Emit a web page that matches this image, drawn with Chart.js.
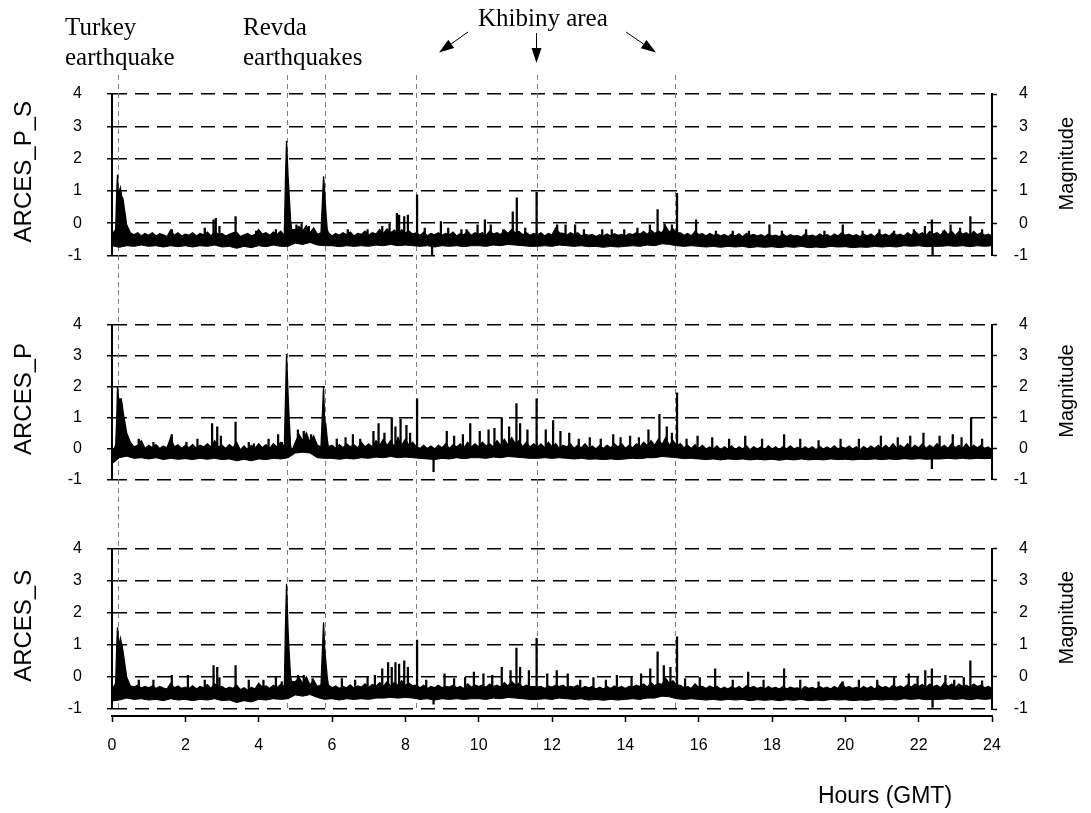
<!DOCTYPE html>
<html><head><meta charset="utf-8">
<script src="https://cdn.jsdelivr.net/npm/chart.js@4.4.1/dist/chart.umd.min.js"></script>
<style>
html,body{margin:0;padding:0;background:#fff;}
#wrap{position:relative;width:1091px;height:813px;overflow:hidden;background:#fff;}
canvas{position:absolute;left:0;}
</style></head><body>
<div id="wrap">
<canvas id="c1" width="1091" height="290" style="top:0px"></canvas>
<canvas id="c2" width="1091" height="224" style="top:290px"></canvas>
<canvas id="c3" width="1091" height="299" style="top:514px"></canvas>
</div>
<script>
// ---------------- DATA ----------------
const panelNames = ['ARCES_P_S', 'ARCES_P', 'ARCES_S'];
const eventHours = [0.17, 4.77, 5.8, 8.3, 11.58, 15.35];
const hourMin = 0, hourMax = 24, hourStep = 2;
const magMin = -1, magMax = 4, magStep = 1;
const upperStep = 0.1; // hours between upper-envelope samples
const lowerStep = 0.2; // hours between lower-envelope samples
const spikeBase = [-0.5, -0.12, -0.45]; // magnitude inside each band from which spikes rise

// ARCES_P_S
const upperPS = [
-0.35,-0.2,1.0,0.75,-0.05,-0.3,-0.36,-0.3,-0.4,-0.32,
-0.38,-0.3,-0.4,-0.33,-0.36,-0.42,-0.22,-0.38,-0.3,-0.4,
-0.34,-0.38,-0.3,-0.4,-0.32,-0.36,-0.28,-0.4,-0.25,-0.35,
-0.32,-0.4,-0.35,-0.3,-0.28,-0.42,-0.36,-0.32,-0.4,-0.35,
-0.2,-0.34,-0.3,-0.38,-0.28,-0.35,-0.25,-0.38,1.5,-0.2,
-0.2,-0.1,-0.25,-0.08,-0.3,-0.15,-0.35,-0.3,1.0,-0.3,
-0.4,-0.32,-0.38,-0.3,-0.36,-0.28,-0.4,-0.32,-0.35,-0.25,
-0.38,-0.3,-0.34,-0.2,-0.32,-0.18,-0.3,-0.22,-0.35,-0.2,
-0.3,-0.25,-0.34,-0.3,-0.38,-0.28,-0.4,-0.32,-0.36,-0.3,
-0.38,-0.32,-0.36,-0.28,-0.4,-0.32,-0.36,-0.26,-0.38,-0.3,
-0.35,-0.3,-0.38,-0.25,-0.34,-0.3,-0.36,-0.22,-0.32,-0.2,
-0.3,-0.26,-0.36,-0.3,-0.38,-0.32,-0.36,-0.3,-0.4,-0.32,
-0.36,-0.15,-0.3,-0.32,-0.38,-0.3,-0.35,-0.3,-0.4,-0.34,
-0.38,-0.35,-0.42,-0.36,-0.4,-0.34,-0.4,-0.33,-0.38,-0.35,
-0.4,-0.33,-0.36,-0.3,-0.34,-0.26,-0.35,-0.22,-0.32,-0.25,
-0.3,-0.1,-0.28,-0.18,-0.3,-0.3,-0.38,-0.32,-0.4,-0.26,
-0.36,-0.33,-0.4,-0.32,-0.38,-0.34,-0.4,-0.35,-0.42,-0.34,
-0.4,-0.33,-0.42,-0.32,-0.38,-0.35,-0.4,-0.36,-0.42,-0.34,
-0.4,-0.37,-0.42,-0.34,-0.42,-0.36,-0.4,-0.38,-0.44,-0.34,
-0.4,-0.37,-0.42,-0.34,-0.4,-0.36,-0.42,-0.34,-0.4,-0.3,
-0.38,-0.34,-0.4,-0.36,-0.42,-0.34,-0.4,-0.34,-0.42,-0.3,
-0.38,-0.34,-0.4,-0.3,-0.38,-0.34,-0.4,-0.3,-0.38,-0.26,
-0.36,-0.3,-0.38,-0.26,-0.34,-0.3,-0.38,-0.22,-0.36,-0.26,
-0.38,-0.26,-0.34,-0.3,-0.38,-0.26,-0.36,-0.3,-0.38,-0.34,
-0.4];
const lowerPS = [
-0.7,-0.75,-0.7,-0.72,-0.68,-0.72,-0.7,-0.74,-0.7,-0.73,
-0.7,-0.74,-0.7,-0.72,-0.68,-0.74,-0.72,-0.78,-0.72,-0.76,
-0.7,-0.73,-0.68,-0.72,-0.72,-0.62,-0.66,-0.6,-0.68,-0.7,
-0.7,-0.73,-0.7,-0.72,-0.7,-0.72,-0.68,-0.7,-0.66,-0.7,
-0.68,-0.7,-0.72,-0.7,-0.74,-0.7,-0.72,-0.7,-0.73,-0.7,
-0.7,-0.72,-0.68,-0.7,-0.66,-0.68,-0.7,-0.72,-0.72,-0.7,
-0.72,-0.68,-0.7,-0.72,-0.7,-0.73,-0.72,-0.75,-0.72,-0.74,
-0.72,-0.7,-0.72,-0.68,-0.7,-0.64,-0.66,-0.7,-0.72,-0.7,
-0.72,-0.74,-0.72,-0.75,-0.72,-0.74,-0.72,-0.76,-0.73,-0.75,
-0.73,-0.76,-0.73,-0.75,-0.72,-0.76,-0.74,-0.76,-0.72,-0.74,
-0.73,-0.76,-0.74,-0.75,-0.72,-0.74,-0.72,-0.74,-0.7,-0.72,
-0.7,-0.73,-0.72,-0.72,-0.7,-0.72,-0.7,-0.73,-0.7,-0.72,
-0.7];
const shapeHoursPS = [0.13,0.15,0.17,0.23,0.26,4.73,4.76,4.83,4.87,5.77,5.83,5.87];
const shapeMagsPS  = [1.0,1.5,0.95,1.1,0.85,1.3,2.55,0.9,0.1,1.45,0.4,-0.2];
const spikeHoursPS = [1.63,2.53,2.77,2.83,2.93,3.37,3.93,4.47,5.03,5.17,5.37,6.43,6.97,7.37,7.57,7.77,7.83,7.97,8.07,8.32,8.53,8.73,8.97,9.17,9.53,9.67,9.97,10.17,10.33,10.67,10.93,11.04,11.27,11.58,12.14,12.37,12.63,12.87,13.37,13.63,13.97,14.33,14.67,14.88,15.07,15.27,15.41,15.93,16.47,16.93,17.37,17.93,18.27,18.93,19.43,19.93,20.47,20.93,21.33,21.87,22.17,22.36,22.38,22.67,22.87,23.13,23.41,23.73];
const spikeMagsPS  = [-0.2,-0.15,0.1,0.15,-0.1,0.2,-0.25,-0.2,-0.05,0.0,-0.1,-0.2,-0.2,-0.1,0.0,0.3,0.25,0.2,0.25,0.88,-0.15,-1.05,0.05,-0.15,-0.2,-0.2,-0.05,0.1,-0.05,-0.2,0.35,0.78,-0.15,0.95,-0.05,-0.05,-0.05,-0.2,-0.2,-0.2,-0.2,-0.15,-0.05,0.42,0.0,-0.05,0.92,0.1,-0.25,-0.25,-0.25,-0.05,-0.25,-0.2,-0.25,-0.05,-0.25,-0.2,-0.25,-0.2,-0.1,0.1,-1.0,-0.25,-0.05,-0.15,0.2,-0.2];

// ARCES_P
const upperP = [
-0.2,0.1,1.6,1.2,0.5,0.2,0.05,0.1,0.25,0.0,
0.1,0.02,0.12,0.0,0.08,0.02,0.35,0.05,0.12,0.0,
0.1,0.02,0.12,0.0,0.1,0.05,0.15,0.05,0.25,0.05,
0.1,0.0,0.12,0.02,0.2,-0.05,0.08,-0.05,0.1,0.0,
0.15,0.02,0.12,0.0,0.15,0.05,0.2,0.05,1.8,-0.1,
0.2,0.45,0.25,0.5,0.2,0.4,0.1,0.05,0.9,0.05,
0.1,0.0,0.12,0.02,0.15,0.05,0.12,0.02,0.2,0.05,
0.15,0.05,0.25,0.1,0.3,0.1,0.25,0.05,0.35,0.1,
0.3,0.1,0.2,0.05,0.0,0.1,0.0,0.08,-0.02,0.1,
0.02,0.15,0.0,0.12,0.05,0.15,0.02,0.2,0.05,0.15,
0.05,0.2,0.08,0.15,0.05,0.25,0.1,0.3,0.1,0.35,
0.15,0.25,0.05,0.2,0.05,0.15,0.05,0.15,0.02,0.2,
0.05,0.15,0.0,0.1,0.05,0.15,0.0,0.1,0.02,0.15,
0.0,0.08,-0.02,0.1,0.0,0.1,0.02,0.15,0.05,0.15,
0.0,0.1,0.02,0.15,0.05,0.2,0.08,0.25,0.1,0.3,
0.12,0.35,0.1,0.25,0.1,0.15,0.02,0.1,0.0,0.12,
0.0,0.1,-0.02,0.05,-0.02,0.08,-0.04,0.05,-0.02,0.08,
-0.04,0.05,-0.02,0.08,-0.04,0.05,-0.02,0.05,-0.04,0.08,
-0.02,0.05,-0.04,0.06,-0.02,0.08,-0.02,0.04,-0.04,0.05,
-0.02,0.05,-0.04,0.06,-0.02,0.05,-0.02,0.08,-0.02,0.05,
0.0,0.08,-0.02,0.05,-0.04,0.06,-0.02,0.08,0.0,0.1,
0.0,0.1,0.0,0.15,0.0,0.1,0.02,0.15,0.0,0.1,
0.02,0.15,0.0,0.1,0.02,0.15,0.02,0.1,0.0,0.15,
0.02,0.1,0.0,0.15,0.0,0.1,0.02,0.1,0.0,0.05,
-0.05];
const lowerP = [
-0.5,-0.3,-0.25,-0.32,-0.3,-0.34,-0.3,-0.36,-0.32,-0.35,
-0.33,-0.36,-0.32,-0.35,-0.32,-0.36,-0.34,-0.4,-0.35,-0.4,
-0.34,-0.36,-0.32,-0.34,-0.3,-0.15,-0.12,-0.15,-0.3,-0.32,
-0.32,-0.35,-0.32,-0.34,-0.3,-0.32,-0.28,-0.3,-0.26,-0.3,
-0.28,-0.3,-0.32,-0.34,-0.36,-0.32,-0.34,-0.3,-0.33,-0.3,
-0.3,-0.32,-0.28,-0.3,-0.26,-0.28,-0.3,-0.32,-0.32,-0.3,
-0.32,-0.3,-0.32,-0.34,-0.32,-0.35,-0.34,-0.36,-0.34,-0.36,
-0.34,-0.32,-0.33,-0.3,-0.3,-0.26,-0.28,-0.3,-0.33,-0.32,
-0.34,-0.36,-0.34,-0.37,-0.34,-0.36,-0.34,-0.37,-0.35,-0.37,
-0.35,-0.38,-0.35,-0.37,-0.34,-0.37,-0.35,-0.37,-0.34,-0.36,
-0.35,-0.37,-0.35,-0.36,-0.34,-0.36,-0.34,-0.36,-0.33,-0.35,
-0.33,-0.35,-0.34,-0.34,-0.32,-0.34,-0.32,-0.34,-0.32,-0.33,
-0.32];
const shapeHoursP = [0.13,0.15,0.18,0.25,0.28,4.73,4.76,4.83,4.87,5.77,5.83,5.87];
const shapeMagsP  = [1.0,2.0,1.6,1.6,1.4,1.5,3.05,1.0,0.1,2.0,0.8,0.3];
const spikeHoursP = [0.73,1.13,1.63,2.03,2.33,2.73,2.87,2.97,3.37,3.73,3.87,4.27,4.53,4.63,5.07,5.23,5.43,6.13,6.37,6.57,6.77,7.13,7.27,7.43,7.63,7.73,7.87,8.03,8.13,8.32,8.77,9.13,9.33,9.57,9.77,10.03,10.27,10.43,10.63,10.83,11.03,11.13,11.33,11.58,11.83,12.03,12.23,12.47,12.73,13.03,13.33,13.67,13.87,14.13,14.37,14.63,14.93,15.13,15.27,15.41,15.67,15.97,16.37,16.83,17.27,17.73,18.33,18.77,19.27,19.87,20.37,20.97,21.43,21.77,22.13,22.36,22.57,22.93,23.17,23.43,23.73];
const spikeMagsP  = [0.3,0.2,0.45,0.2,0.3,0.8,0.7,0.4,0.85,0.2,0.15,0.3,0.45,0.2,0.6,0.55,0.45,0.3,0.35,0.45,0.3,0.55,0.8,0.5,1.0,0.7,0.95,0.75,0.5,1.6,-0.75,0.55,0.4,0.45,0.8,0.55,0.6,0.65,1.0,0.7,1.45,0.8,0.6,1.6,0.6,0.9,0.55,0.5,0.3,0.35,0.3,0.45,0.35,0.4,0.35,0.6,1.1,0.7,0.5,1.8,0.3,0.4,0.35,0.3,0.4,0.3,0.45,0.3,0.25,0.3,0.3,0.4,0.35,0.4,0.5,-0.65,0.4,0.45,0.35,1.0,0.3];

// ARCES_S
const upperS = [
-0.4,-0.2,1.0,0.8,0.0,-0.28,-0.32,-0.26,-0.35,-0.3,
-0.34,-0.28,-0.36,-0.3,-0.35,-0.38,-0.2,-0.34,-0.28,-0.36,
-0.32,-0.36,-0.28,-0.38,-0.3,-0.34,-0.24,-0.36,-0.22,-0.32,
-0.3,-0.38,-0.32,-0.36,-0.26,-0.4,-0.34,-0.42,-0.32,-0.38,
-0.2,-0.32,-0.28,-0.36,-0.26,-0.34,-0.24,-0.3,1.5,-0.15,
-0.15,-0.02,-0.2,0.0,-0.25,-0.1,-0.3,-0.25,0.9,-0.25,
-0.34,-0.28,-0.36,-0.3,-0.34,-0.25,-0.36,-0.28,-0.32,-0.22,
-0.32,-0.24,-0.3,-0.18,-0.3,-0.15,-0.28,-0.18,-0.26,-0.12,
-0.26,-0.2,-0.28,-0.26,-0.34,-0.26,-0.36,-0.3,-0.34,-0.26,
-0.34,-0.3,-0.32,-0.26,-0.34,-0.3,-0.36,-0.22,-0.32,-0.25,
-0.3,-0.26,-0.32,-0.22,-0.3,-0.26,-0.32,-0.18,-0.28,-0.14,
-0.26,-0.2,-0.32,-0.26,-0.3,-0.3,-0.32,-0.3,-0.36,-0.28,
-0.32,-0.26,-0.3,-0.26,-0.34,-0.3,-0.32,-0.26,-0.36,-0.3,
-0.34,-0.3,-0.38,-0.32,-0.38,-0.3,-0.36,-0.28,-0.34,-0.3,
-0.36,-0.3,-0.32,-0.26,-0.3,-0.22,-0.32,-0.18,-0.28,-0.2,
-0.24,-0.05,-0.2,-0.12,-0.25,-0.26,-0.34,-0.3,-0.36,-0.22,
-0.32,-0.3,-0.36,-0.28,-0.34,-0.3,-0.38,-0.32,-0.38,-0.3,
-0.36,-0.3,-0.38,-0.28,-0.34,-0.3,-0.36,-0.32,-0.38,-0.3,
-0.36,-0.33,-0.38,-0.3,-0.38,-0.32,-0.36,-0.34,-0.4,-0.3,
-0.36,-0.33,-0.38,-0.3,-0.36,-0.32,-0.38,-0.3,-0.36,-0.18,
-0.34,-0.3,-0.36,-0.32,-0.38,-0.3,-0.36,-0.3,-0.38,-0.26,
-0.34,-0.3,-0.36,-0.26,-0.33,-0.28,-0.34,-0.24,-0.32,-0.22,
-0.3,-0.24,-0.33,-0.22,-0.3,-0.26,-0.34,-0.18,-0.3,-0.22,
-0.33,-0.22,-0.3,-0.26,-0.33,-0.22,-0.3,-0.26,-0.34,-0.3,
-0.35];
const lowerS = [
-0.75,-0.72,-0.66,-0.7,-0.68,-0.72,-0.7,-0.74,-0.68,-0.72,
-0.7,-0.74,-0.7,-0.72,-0.68,-0.74,-0.72,-0.8,-0.74,-0.78,
-0.7,-0.72,-0.68,-0.7,-0.68,-0.56,-0.6,-0.55,-0.64,-0.7,
-0.68,-0.72,-0.68,-0.7,-0.68,-0.7,-0.66,-0.66,-0.64,-0.66,
-0.64,-0.66,-0.7,-0.68,-0.72,-0.68,-0.7,-0.68,-0.7,-0.68,
-0.68,-0.7,-0.66,-0.68,-0.64,-0.66,-0.68,-0.7,-0.7,-0.68,
-0.7,-0.66,-0.68,-0.7,-0.68,-0.72,-0.7,-0.73,-0.7,-0.72,
-0.7,-0.68,-0.7,-0.66,-0.66,-0.6,-0.62,-0.68,-0.7,-0.68,
-0.7,-0.72,-0.7,-0.73,-0.7,-0.72,-0.7,-0.74,-0.71,-0.73,
-0.71,-0.74,-0.71,-0.73,-0.7,-0.74,-0.72,-0.74,-0.7,-0.72,
-0.71,-0.74,-0.72,-0.73,-0.7,-0.72,-0.7,-0.72,-0.68,-0.7,
-0.68,-0.71,-0.7,-0.7,-0.68,-0.7,-0.68,-0.71,-0.68,-0.7,
-0.68];
const shapeHoursS = [0.13,0.15,0.18,0.23,0.27,4.73,4.76,4.83,4.87,5.77,5.83,5.87];
const shapeMagsS  = [1.0,1.55,1.1,1.2,1.0,1.5,2.9,0.8,0.0,1.7,0.5,0.0];
const spikeHoursS = [0.73,1.13,1.63,2.07,2.53,2.77,2.87,2.93,3.37,3.73,4.13,4.47,4.63,5.07,5.23,5.47,6.27,6.63,6.97,7.17,7.37,7.53,7.63,7.73,7.83,7.97,8.07,8.32,8.57,8.77,9.07,9.33,9.63,9.87,10.13,10.37,10.63,10.87,11.03,11.13,11.37,11.58,11.87,12.13,12.43,12.77,13.13,13.47,13.77,14.17,14.43,14.68,14.88,15.05,15.23,15.41,15.63,16.03,16.45,16.93,17.35,17.77,18.33,18.77,19.27,19.93,20.37,20.87,21.33,21.73,21.97,22.18,22.36,22.38,22.73,22.97,23.23,23.41,23.73];
const spikeMagsS  = [-0.1,-0.1,0.05,0.05,-0.1,0.35,0.3,0.0,0.35,-0.1,-0.1,0.0,-0.15,0.05,0.05,-0.05,-0.05,-0.1,0.0,0.05,0.25,0.45,0.3,0.45,0.4,0.5,0.3,1.15,-0.1,-0.85,0.1,-0.05,0.0,0.15,0.1,0.05,0.3,0.2,0.9,0.3,0.2,1.2,0.1,0.2,0.1,-0.1,0.0,-0.1,0.05,0.0,0.1,0.25,0.78,0.35,0.3,1.25,-0.05,0.0,0.25,-0.1,0.15,-0.1,0.25,-0.1,-0.15,-0.15,-0.1,-0.1,0.0,0.1,0.0,0.2,0.25,-0.95,0.05,-0.1,0.0,0.5,-0.12];

// ---------------- BUILD ----------------
function buildUpper(arr, hours, mags) {
  const pts = arr.map((v, i) => ({ x: Math.round(i * upperStep * 100) / 100, y: v }));
  hours.forEach((h, i) => pts.push({ x: h, y: mags[i] }));
  pts.sort((a, b) => a.x - b.x);
  return pts;
}
function buildLower(arr) {
  return arr.map((v, i) => ({ x: Math.round(i * lowerStep * 100) / 100, y: v }));
}
function buildSpikes(hours, mags, base) {
  return hours.map((h, i) => ({ x: h, y: [base, mags[i]] }));
}
const panels = [
  { up: buildUpper(upperPS, shapeHoursPS, shapeMagsPS), lo: buildLower(lowerPS), sp: buildSpikes(spikeHoursPS, spikeMagsPS, spikeBase[0]) },
  { up: buildUpper(upperP, shapeHoursP, shapeMagsP),    lo: buildLower(lowerP),  sp: buildSpikes(spikeHoursP, spikeMagsP, spikeBase[1]) },
  { up: buildUpper(upperS, shapeHoursS, shapeMagsS),    lo: buildLower(lowerS),  sp: buildSpikes(spikeHoursS, spikeMagsS, spikeBase[2]) }
];

const SANS = '"Liberation Sans", Arial, Helvetica, sans-serif';
const SERIF = '"Liberation Serif", "Times New Roman", serif';
Chart.defaults.font.family = SANS;
Chart.defaults.font.size = 16;
Chart.defaults.color = '#000';

function arrow(ctx, x1, y1, x2, y2) {
  const ang = Math.atan2(y2 - y1, x2 - x1), L = 15, W = 5;
  const bx = x2 - L * Math.cos(ang), by = y2 - L * Math.sin(ang);
  ctx.beginPath(); ctx.moveTo(x1, y1); ctx.lineTo(bx, by); ctx.stroke();
  ctx.beginPath();
  ctx.moveTo(x2, y2);
  ctx.lineTo(bx + W * Math.sin(ang), by - W * Math.cos(ang));
  ctx.lineTo(bx - W * Math.sin(ang), by + W * Math.cos(ang));
  ctx.closePath(); ctx.fill();
}

function decoPlugin(idx, cfg) {
  return {
    id: 'deco' + idx,
    beforeDatasetsDraw(chart) {
      const ctx = chart.ctx, xs = chart.scales.x;
      const bottom = cfg.lineToArea ? chart.chartArea.bottom : chart.height;
      ctx.save();
      ctx.strokeStyle = '#808080'; ctx.lineWidth = 1; ctx.setLineDash([5, 4]);
      eventHours.forEach(h => {
        const x = Math.round(xs.getPixelForValue(h)) + 0.5;
        ctx.beginPath(); ctx.moveTo(x, cfg.lineTop); ctx.lineTo(x, bottom); ctx.stroke();
      });
      ctx.restore();
    },
    afterDraw(chart) {
      const ctx = chart.ctx, ca = chart.chartArea, mid = (ca.top + ca.bottom) / 2;
      ctx.save();
      ctx.fillStyle = '#000'; ctx.textAlign = 'center'; ctx.textBaseline = 'middle';
      ctx.save(); ctx.font = '24px ' + SANS; ctx.translate(24, mid - 3); ctx.rotate(-Math.PI / 2);
      ctx.fillText(panelNames[idx], 0, 0); ctx.restore();
      ctx.save(); ctx.font = '20px ' + SANS; ctx.translate(1067.5, mid - 11); ctx.rotate(-Math.PI / 2);
      ctx.fillText('Magnitude', 0, 0); ctx.restore();
      if (idx === 0) {
        ctx.font = '25px ' + SERIF; ctx.textAlign = 'left'; ctx.textBaseline = 'alphabetic';
        ctx.fillText('Turkey', 65, 35); ctx.fillText('earthquake', 65, 65);
        ctx.fillText('Revda', 243, 35); ctx.fillText('earthquakes', 243, 65);
        ctx.fillText('Khibiny area', 478, 26);
        ctx.strokeStyle = '#000'; ctx.lineWidth = 1;
        arrow(ctx, 468, 32, 439, 52.5);
        arrow(ctx, 536.5, 33, 536.5, 63);
        arrow(ctx, 626, 32, 656, 52.5);
      }
      if (idx === 2) {
        ctx.font = '23px ' + SANS; ctx.textAlign = 'center'; ctx.textBaseline = 'alphabetic';
        ctx.fillText('Hours (GMT)', 885, 289);
      }
      ctx.restore();
    }
  };
}

function makeChart(canvasId, idx, padTop, padBottom, showX, cfg) {
  const tickFont = { size: 16, family: SANS };
  const p = panels[idx];
  return new Chart(document.getElementById(canvasId), {
    type: 'line',
    data: { datasets: [
      { type: 'bar', data: p.sp, backgroundColor: '#000', borderWidth: 0, barThickness: 1.6, grouped: false },
      { data: p.up, borderColor: '#000', borderWidth: 1.3, pointRadius: 0, tension: 0, fill: '+1', backgroundColor: '#000' },
      { data: p.lo, borderColor: '#000', borderWidth: 1, pointRadius: 0, tension: 0, fill: false }
    ] },
    options: {
      responsive: false, animation: false, events: [],
      layout: { padding: { top: padTop, bottom: padBottom, left: 0, right: 63 } },
      plugins: { legend: { display: false }, tooltip: { enabled: false } },
      scales: {
        x: {
          type: 'linear', min: hourMin, max: hourMax, display: showX, offset: false,
          position: showX ? { y: -1.23 } : 'bottom',
          ticks: { stepSize: hourStep, font: tickFont, color: '#000', padding: 15, maxRotation: 0, autoSkip: false },
          grid: { offset: false, drawOnChartArea: false, drawTicks: true, tickLength: 5, tickColor: '#000', tickWidth: 1.5 },
          border: { display: true, color: '#000', width: 2 }
        },
        y: {
          position: 'left', min: magMin, max: magMax,
          ticks: { stepSize: magStep, font: tickFont, color: '#000', padding: 25 },
          grid: { color: '#000', lineWidth: 1.5, drawTicks: true, tickLength: 5, tickColor: '#000', tickWidth: 1.5, tickBorderDash: [] },
          border: { display: true, color: '#000', width: 2, dash: [14, 8] },
          afterFit(s) { s.width = 112; }
        },
        y2: {
          position: 'right', min: magMin, max: magMax,
          ticks: { stepSize: magStep, font: tickFont, color: '#000', padding: 10, crossAlign: 'far' },
          grid: { drawOnChartArea: false, drawTicks: true, tickLength: 5, tickColor: '#000', tickWidth: 1.5 },
          border: { display: true, color: '#000', width: 2 },
          afterFit(s) { s.width = 36; }
        }
      }
    },
    plugins: [decoPlugin(idx, cfg)]
  });
}

makeChart('c1', 0, 94, 30.5, false, { lineTop: 75, lineToArea: false });
makeChart('c2', 1, 28, 30, false, { lineTop: 0, lineToArea: false });
makeChart('c3', 2, 29, 104, true, { lineTop: 0, lineToArea: true });
</script>
</body></html>
